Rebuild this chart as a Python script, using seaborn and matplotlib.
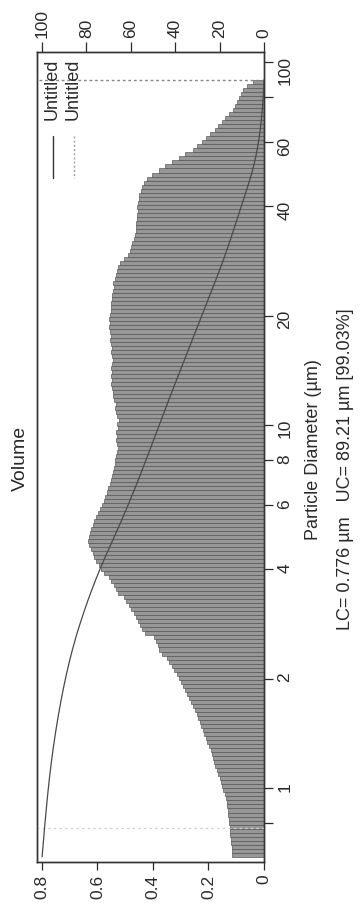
import numpy as np
import matplotlib
matplotlib.use("Agg")
import matplotlib.pyplot as plt
import seaborn as sns
from matplotlib.lines import Line2D
from matplotlib.ticker import NullLocator, FixedLocator, FixedFormatter

# ---------------- data ----------------
TITLE = "Volume"
X_LABEL = "Particle Diameter (µm)"
STATS_LABEL = "LC= 0.776 µm   UC= 89.21 µm [99.03%]"
LEGEND_LABELS = ["Untitled", "Untitled"]

DIAM_MIN = 0.646      # lower edge of first channel (µm)
DIAM_MAX = 89.21      # upper edge of last channel (µm)
LC = 0.776
UC = 89.21

# differential volume (%) per channel, from smallest to largest diameter
volume = [
    0.115, 0.117, 0.116, 0.119, 0.120,
    0.122, 0.121, 0.124, 0.126, 0.127,
    0.129, 0.131, 0.133, 0.135, 0.138,
    0.142, 0.146, 0.150, 0.155, 0.160,
    0.166, 0.170, 0.175, 0.179, 0.183,
    0.187, 0.192, 0.198, 0.204, 0.209,
    0.215, 0.220, 0.226, 0.232, 0.237,
    0.243, 0.249, 0.256, 0.263, 0.270,
    0.277, 0.284, 0.291, 0.298, 0.306,
    0.315, 0.323, 0.332, 0.341, 0.350,
    0.368, 0.377, 0.383, 0.390, 0.396,
    0.430, 0.440, 0.447, 0.455, 0.460,
    0.468, 0.478, 0.488, 0.497, 0.505,
    0.525, 0.532, 0.540, 0.552, 0.560,
    0.578, 0.588, 0.595, 0.605, 0.612,
    0.618, 0.625, 0.630, 0.633, 0.630,
    0.628, 0.622, 0.618, 0.612, 0.606,
    0.598, 0.590, 0.585, 0.578, 0.572,
    0.566, 0.562, 0.556, 0.552, 0.548,
    0.545, 0.541, 0.538, 0.536, 0.533,
    0.530, 0.527, 0.531, 0.534, 0.530,
    0.532, 0.526, 0.529, 0.524, 0.530,
    0.534, 0.538, 0.535, 0.541, 0.545,
    0.543, 0.548, 0.551, 0.547, 0.550,
    0.546, 0.552, 0.548, 0.544, 0.549,
    0.551, 0.547, 0.553, 0.556, 0.552,
    0.555, 0.558, 0.554, 0.559, 0.556,
    0.553, 0.550, 0.552, 0.547, 0.549,
    0.545, 0.541, 0.543, 0.538, 0.535,
    0.530, 0.527, 0.518, 0.505, 0.490,
    0.484, 0.478, 0.474, 0.470, 0.466,
    0.463, 0.460, 0.462, 0.458, 0.457,
    0.455, 0.457, 0.453, 0.451, 0.449,
    0.445, 0.440, 0.432, 0.420, 0.405,
    0.378, 0.355, 0.330, 0.305, 0.285,
    0.256, 0.240, 0.225, 0.210, 0.195,
    0.178, 0.165, 0.152, 0.140, 0.125,
    0.112, 0.105, 0.098, 0.090, 0.083,
    0.076, 0.062, 0.040,
]

diam_ticks = [0.8, 1, 2, 4, 6, 8, 10, 20, 40, 60, 80, 100]
diam_tick_labels = ["", "1", "2", "4", "6", "8", "10", "20", "40", "60", "", "100"]
vol_ticks = [0, 0.2, 0.4, 0.6, 0.8]
vol_tick_labels = ["0", "0.2", "0.4", "0.6", "0.8"]
cum_ticks = [0, 20, 40, 60, 80, 100]
cum_tick_labels = ["0", "20", "40", "60", "80", "100"]

# ---------------- style ----------------
sns.set_theme(style="ticks")
plt.rcParams["font.family"] = ["Liberation Sans", "DejaVu Sans"]
TXT = "#2a2a2a"
FS_TICK = 12.5
FS_LAB = 13

W, H = 361, 922
fx = lambda px: px / W
fy = lambda py: 1 - py / H

VOL_LIM = (0.818, 0)
CUM_LIM = (102.3, 0)
D_LIM = (0.625, 106.5)

fig = plt.figure(figsize=(W / 100, H / 100), dpi=100)
fig.patch.set_facecolor("white")
ax = fig.add_axes([fx(37), fy(862), fx(264) - fx(37), fy(52) - fy(862)])
ax.set_yscale("log")
ax.set_xlim(*VOL_LIM)
ax.set_ylim(*D_LIM)

edges = np.geomspace(DIAM_MIN, DIAM_MAX, len(volume) + 1)
ax.barh(edges[:-1], volume, height=np.diff(edges), align="edge",
        color="#979797", edgecolor="#505050", linewidth=0.45, zorder=2)

# upper / lower cut lines (horizontal, across the whole axes)
ax.hlines([UC], xmin=VOL_LIM[1], xmax=VOL_LIM[0], colors="#858585",
          linewidth=1.0, linestyles=(0, (2.0, 2.0)), zorder=3)
ax.hlines([LC], xmin=VOL_LIM[1], xmax=VOL_LIM[0], colors="#d0d0d0",
          linewidth=0.9, linestyles=(0, (2.0, 2.5)), zorder=3)

ax.set_xlim(*VOL_LIM)
ax.set_ylim(*D_LIM)

# volume axis (bottom)
ax.xaxis.set_major_locator(FixedLocator(vol_ticks))
ax.xaxis.set_major_formatter(FixedFormatter(vol_tick_labels))
ax.tick_params(axis="x", bottom=True, top=False, direction="out", length=6,
               width=0.9, color=TXT, labelsize=FS_TICK, labelcolor=TXT,
               labelrotation=90, pad=3)

# diameter axis (right)
ax.yaxis.tick_right()
ax.yaxis.set_major_locator(FixedLocator(diam_ticks))
ax.yaxis.set_major_formatter(FixedFormatter(diam_tick_labels))
ax.yaxis.set_minor_locator(NullLocator())
ax.tick_params(axis="y", left=False, right=True, labelleft=False, labelright=True,
               direction="out", length=6.5, width=0.9, color=TXT,
               labelsize=FS_TICK, labelcolor=TXT, labelrotation=90, pad=3)
for sp in ax.spines.values():
    sp.set_color("#333333")
    sp.set_linewidth(1.0)
ax.grid(False)

# cumulative axis (top)
ax2 = ax.twiny()
cum_gt = 100 - np.concatenate([[0], np.cumsum(volume)]) / np.sum(volume) * 100
sns.lineplot(x=cum_gt, y=edges, sort=False, estimator=None, ax=ax2,
             color="#4a4a4a", lw=0.9, zorder=4)
ax2.set_xlim(*CUM_LIM)
ax2.set_ylim(*D_LIM)
ax2.set_xlabel("")
ax2.set_ylabel("")
ax2.xaxis.set_major_locator(FixedLocator(cum_ticks))
ax2.xaxis.set_major_formatter(FixedFormatter(cum_tick_labels))
ax2.xaxis.set_minor_locator(NullLocator())
ax2.tick_params(axis="x", top=True, bottom=False, direction="out", length=7,
                width=0.9, color=TXT, labelsize=FS_TICK, labelcolor=TXT,
                labelrotation=90, pad=3)
for sp in ax2.spines.values():
    sp.set_color("#333333")
    sp.set_linewidth(1.0)
ax2.grid(False)

# legend (drawn rotated, like the reference)
fig.text(fx(52), fy(59), LEGEND_LABELS[0], rotation=90, ha="center", va="top",
         fontsize=FS_LAB, color=TXT)
fig.add_artist(Line2D([fx(53), fx(53)], [fy(136), fy(178)], color="#333333", lw=1.0))
fig.text(fx(73), fy(59), LEGEND_LABELS[1], rotation=90, ha="center", va="top",
         fontsize=FS_LAB, color=TXT)
fig.add_artist(Line2D([fx(74), fx(74)], [fy(136), fy(178)], color="#a0a0a0",
                      lw=1.0, ls=(0, (1.5, 1.5))))

# titles / labels
fig.text(fx(20), fy(458), TITLE, rotation=90, ha="center", va="center",
         fontsize=14, color=TXT)
fig.text(fx(314), fy(450), X_LABEL, rotation=90, ha="center", va="center",
         fontsize=FS_LAB, color=TXT)
fig.text(fx(346), fy(469), STATS_LABEL, rotation=90, ha="center", va="center",
         fontsize=FS_LAB, color=TXT)

fig.savefig("out.png", dpi=100, facecolor="white")
